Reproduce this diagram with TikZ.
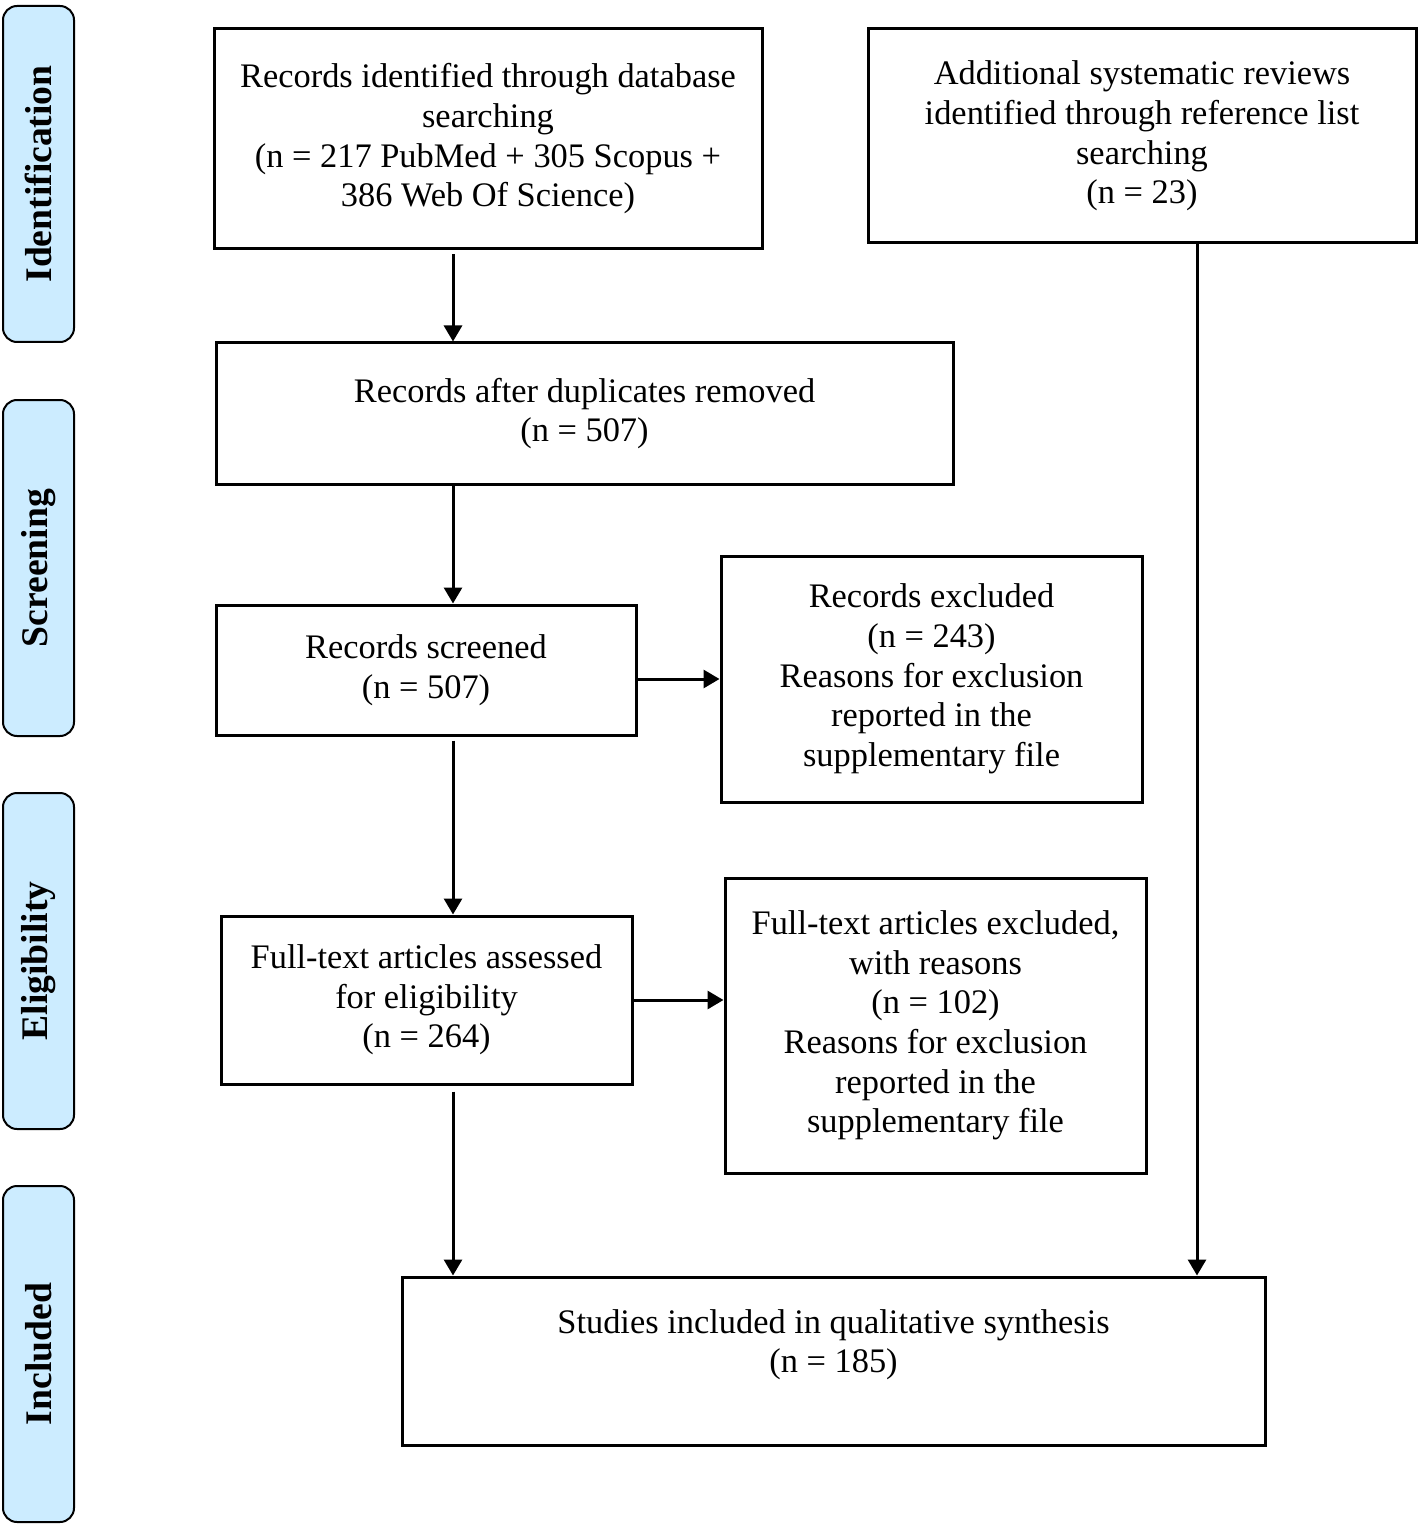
\documentclass[tikz,border=0pt]{standalone}
\usepackage{fontspec}
\setmainfont{Liberation Serif}
\usetikzlibrary{positioning, arrows.meta}

\definecolor{stageblue}{RGB}{204,236,255}
\tikzset{
    box/.style={draw, line width=1.5pt, align=center, inner sep=2pt,
        font=\fontsize{17.2}{19.85}\selectfont},
    stage/.style={draw, line width=1pt, rounded corners=7pt, fill=stageblue,
        rotate=90, minimum width=168pt, minimum height=35.5pt, inner sep=0pt,
        font=\fontsize{18.8}{20}\selectfont\bfseries},
    arr/.style={-{Triangle[length=8pt, width=9pt]}, line width=1.5pt},
}

\begin{document}
\begin{tikzpicture}[x=0.5pt, y=-0.5pt]
        \useasboundingbox (0,0) rectangle (1422,1524);

        \node[stage] (Id) at (38.5,174) {Identification};
        \node[stage] (Sc) at (38.5,568) {Screening};
        \node[stage] (El) at (38.5,961) {Eligibility};
        \node[stage] (In) at (38.5,1354) {Included};

        \node[box, minimum width=274pt, minimum height=110pt] (DB) at (488,139) {Records identified through database\\searching\\(n = 217 PubMed + 305 Scopus +\\386 Web Of Science)};
        \node[box, minimum width=274pt, minimum height=107pt] (Add) at (1142,136) {Additional systematic reviews\\identified through reference list\\searching\\(n = 23)};
        \node[box, minimum width=368.5pt, minimum height=70.5pt] (Dup) at (584.5,413.5) {Records after duplicates removed\\(n = 507)};
        \node[box, minimum width=210pt, minimum height=65pt] (Scr) at (426,670) {Records screened\\(n = 507)};
        \node[box, minimum width=210.5pt, minimum height=123pt] (Exc) at (931.5,679) {Records excluded\\(n = 243)\\Reasons for exclusion\\reported in the\\supplementary file};
        \node[box, minimum width=205.5pt, minimum height=84pt] (FT) at (426.5,1000) {Full-text articles assessed\\for eligibility\\(n = 264)};
        \node[box, minimum width=210.5pt, minimum height=147.5pt] (FTex) at (935.5,1025.5) {Full-text articles excluded,\\with reasons\\(n = 102)\\Reasons for exclusion\\reported in the\\supplementary file};
        \node[box, minimum width=431.5pt, minimum height=84pt] (Inc) at (833.5,1361) {Studies included in qualitative synthesis\\(n = 185)\\ ~};

        \coordinate (spine) at (453,0);
        \coordinate (side) at (1197,0);

        \draw[arr, shorten <=2pt] (DB.south -| spine) -- (Dup.north -| spine);
        \draw[arr] (Dup.south -| spine) -- (Scr.north -| spine);
        \draw[arr, shorten <=2pt] (Scr.south -| spine) -- (FT.north -| spine);
        \draw[arr, shorten <=3pt] (FT.south -| spine) -- (Inc.north -| spine);
        \draw[arr] (Add.south -| side) -- (Inc.north -| side);
        \draw[arr] (Scr.east |- Exc.west) -- (Exc.west);
        \draw[arr] (FT.east) -- (FT.east -| FTex.west);
    \end{tikzpicture}
\end{document}
